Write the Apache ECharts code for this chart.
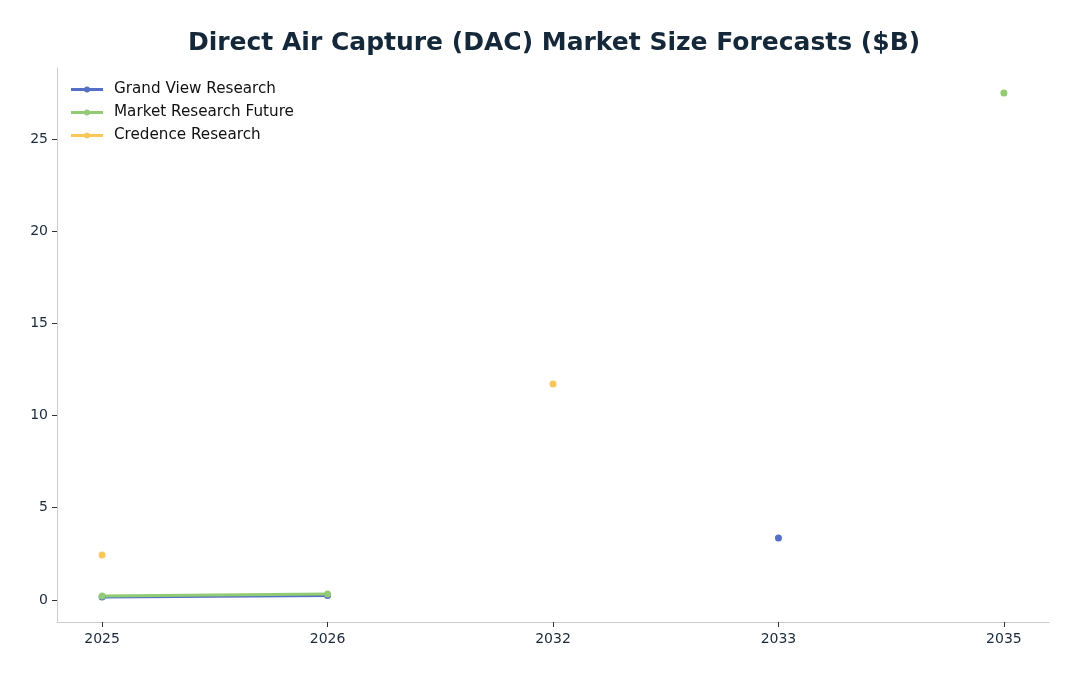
<!DOCTYPE html>
<html>
<head>
<meta charset="utf-8">
<script src="https://cdn.jsdelivr.net/npm/echarts@6/dist/echarts.min.js"></script>
<style>html,body{margin:0;padding:0;background:#fff}#c{width:1079px;height:676px}</style>
</head>
<body>
<div id="c"></div>
<script>
const years = ['2025', '2026', '2032', '2033', '2035'];
const grandView = [0.16, 0.24, null, 3.36, null];
const marketResearchFuture = [0.21, 0.32, null, null, 27.5];
const credence = [2.44, null, 11.71, null, null];
const yTicks = [0, 5, 10, 15, 20, 25];
const seriesNames = ['Grand View Research', 'Market Research Future', 'Credence Research'];
const colors = ['#5470c6', '#91cc75', '#fac858'];

function toPairs(arr) { return arr.map((v, i) => [i, v]); }
const allData = [grandView, marketResearchFuture, credence];

const legendIcon = 'path://M0,1.5 L13.5,1.5 L13.5,4.5 L0,4.5 Z M18.5,1.5 L32,1.5 L32,4.5 L18.5,4.5 Z M13,3 A3,3 0 1,1 19,3 A3,3 0 1,1 13,3 Z';

const chart = echarts.init(document.getElementById('c'), null, {renderer: 'canvas'});
const font = 'DejaVu Sans';
chart.setOption({
  animation: false,
  backgroundColor: '#ffffff',
  title: {
    text: 'Direct Air Capture (DAC) Market Size Forecasts ($B)',
    left: 549, top: 26, textAlign: 'center',
    textStyle: {fontFamily: font, fontSize: 25, fontWeight: 'bold', color: '#14283a'}
  },
  legend: {
    orient: 'vertical', left: 66, top: 77, itemGap: 8,
    itemWidth: 32, itemHeight: 6,
    data: seriesNames.map(n => ({name: n, icon: legendIcon})),
    textStyle: {fontFamily: font, fontSize: 15.2, color: '#111', padding: [0, 0, 0, 6]}
  },
  grid: {left: 57, right: 30, top: 68, bottom: 54, containLabel: false},
  xAxis: {
    type: 'value', min: -0.2, max: 4.2,
    splitLine: {show: false},
    axisLine: {show: true, onZero: false, lineStyle: {color: '#cccccc', width: 1}},
    axisTick: {show: true, customValues: [0,1,2,3,4], length: 5, lineStyle: {color: '#333'}},
    axisLabel: {customValues: [0,1,2,3,4], formatter: v => years[Math.round(v)], fontFamily: font, fontSize: 14, color: '#1a2a3a', margin: 10}
  },
  yAxis: {
    type: 'value', min: -1.2, max: 28.86,
    splitLine: {show: false},
    axisLine: {show: true, onZero: false, lineStyle: {color: '#cccccc', width: 1}},
    axisTick: {show: true, customValues: yTicks, length: 5, lineStyle: {color: '#333'}},
    axisLabel: {customValues: yTicks, fontFamily: font, fontSize: 14, color: '#1a2a3a', margin: 9}
  },
  series: seriesNames.map((n, k) => ({
    name: n, type: 'line', data: toPairs(allData[k]),
    connectNulls: false,
    symbol: 'circle', symbolSize: 7, showSymbol: true,
    lineStyle: {width: 3, color: colors[k]},
    itemStyle: {color: colors[k]},
    color: colors[k]
  }))
});
</script>
</body>
</html>
